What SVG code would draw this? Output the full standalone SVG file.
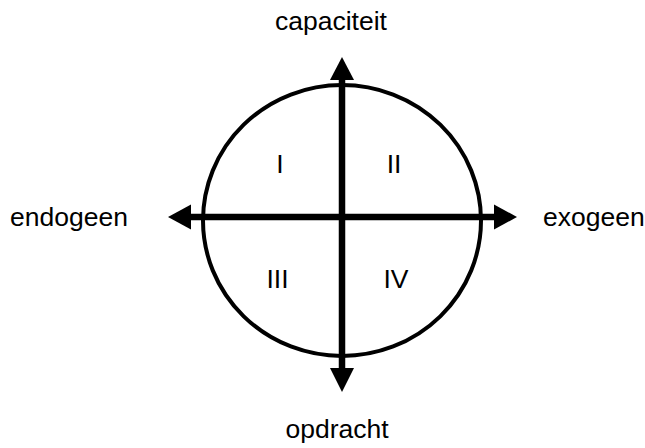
<svg xmlns="http://www.w3.org/2000/svg" width="645" height="448" viewBox="0 0 645 448">
<style>
text{font-family:"Liberation Sans",Arial,sans-serif;font-size:26.5px;fill:#000}
.c{text-anchor:middle}
.ax{stroke:#000;stroke-width:6.5;fill:none}
.hd{fill:#000}
</style>
<rect width="645" height="448" fill="#fff"/>
<g id="circle">
<ellipse cx="342" cy="220.5" rx="139" ry="135.5" fill="none" stroke="#000" stroke-width="4"/>
</g>
<g id="connectors">
<line class="ax" x1="342" y1="78" x2="342" y2="370"/>
<line class="ax" x1="189" y1="217" x2="496" y2="217"/>
<polygon class="hd" points="342,57 354,80 330,80"/>
<polygon class="hd" points="342,392 354,368 330,368"/>
<polygon class="hd" points="168,217 191,204.5 191,229.5"/>
<polygon class="hd" points="517,217 494,204.5 494,229.5"/>
</g>
<g id="capaciteit"><text x="275" y="30">capaciteit</text></g>
<g id="endogeen"><text x="10" y="226">endogeen</text></g>
<g id="exogeen"><text x="543" y="226">exogeen</text></g>
<g id="opdracht"><text class="c" x="337" y="438">opdracht</text></g>
<g id="q1"><text class="c" x="280" y="173">I</text></g>
<g id="q2"><text class="c" x="394" y="173">II</text></g>
<g id="q3"><text class="c" x="277.5" y="288">III</text></g>
<g id="q4"><text class="c" x="396" y="288">IV</text></g>
</svg>
